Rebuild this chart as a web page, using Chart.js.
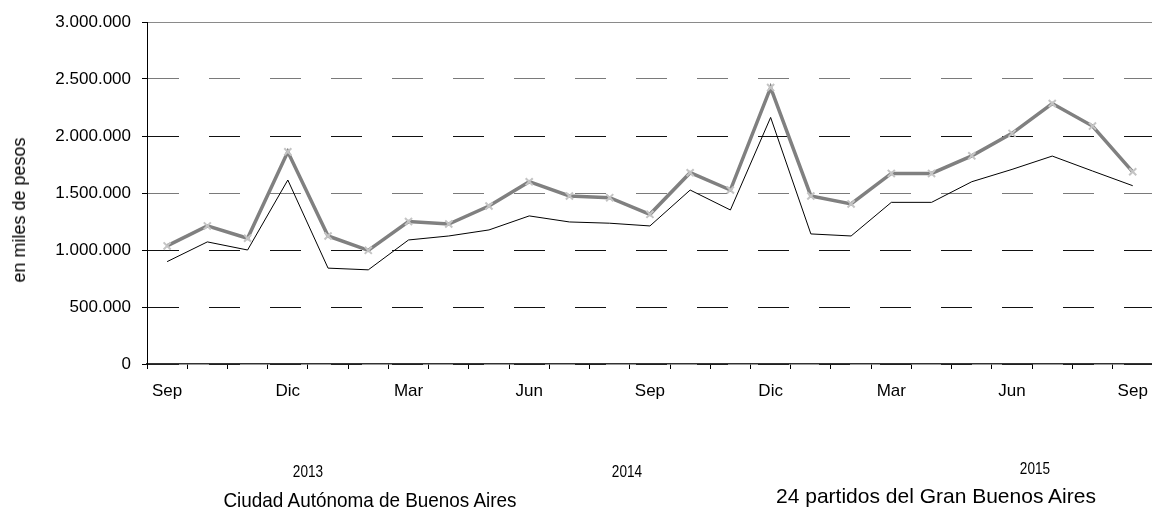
<!DOCTYPE html>
<html>
<head>
<meta charset="utf-8">
<script src="https://cdn.jsdelivr.net/npm/chart.js@4.4.0/dist/chart.umd.min.js"></script>
<style>
body{margin:0;overflow:hidden;background:#fff;font-family:"Liberation Sans",Arial,sans-serif;}
#wrap{position:relative;width:1152px;height:510px;overflow:hidden;}
#mycanvas{display:block;}
.txt{position:absolute;color:#000;white-space:nowrap;line-height:1;}
</style>
</head>
<body>
<div id="wrap">
<canvas id="mycanvas" width="1160" height="510"></canvas>
</div>
<script>
// meses sep 2013 - sep 2015
var meses=['Sep','Oct','Nov','Dic','Ene','Feb','Mar','Abr','May','Jun','Jul','Ago',
           'Sep','Oct','Nov','Dic','Ene','Feb','Mar','Abr','May','Jun','Jul','Ago','Sep'];
var anios=['2013','2014','2015'];
var series=['Ciudad Autónoma de Buenos Aires','24 partidos del Gran Buenos Aires'];
var tituloY='en miles de pesos';

// en miles de pesos
var ciudad=[898000,1071000,1000000,1614000,841000,826000,1088000,1123000,1176000,1299000,1246000,1235000,
            1211000,1526000,1351000,2163000,1141000,1123000,1418000,1418000,1599000,1707000,1824000,1693000,1564000];
var partidos=[1036000,1211000,1103000,1861000,1123000,997000,1249000,1228000,1386000,1599000,1474000,1459000,
              1313000,1678000,1526000,2425000,1474000,1404000,1672000,1672000,1826000,2023000,2285000,2087000,1686000];

function miles(v){
  return String(v).replace(/\B(?=(\d{3})+(?!\d))/g,'.');
}

var fuente='"Liberation Sans", Arial';

var ctx=document.getElementById('mycanvas');
var chart=new Chart(ctx,{
  type:'line',
  data:{
    labels:meses,
    datasets:[
      {
        label:series[1],
        data:partidos,
        borderColor:'#808080',
        borderWidth:3.5,
        pointStyle:'crossRot',
        pointRadius:5,
        pointBorderWidth:2,
        pointBorderColor:'#c4c4c4',
        pointBackgroundColor:'#c4c4c4',
        tension:0
      },
      {
        label:series[0],
        data:ciudad,
        borderColor:'#000',
        borderWidth:1,
        pointRadius:0,
        tension:0
      }
    ]
  },
  options:{
    responsive:false,
    animation:false,
    devicePixelRatio:1,
    layout:{padding:{top:22,left:0,right:0,bottom:0}},
    plugins:{legend:{display:false},tooltip:{enabled:false}},
    scales:{
      x:{
        offset:true,
        grid:{offset:true,drawOnChartArea:false,tickLength:5,color:'#000',tickColor:'#000'},
        border:{color:'#333',width:1.5},
        ticks:{
          autoSkip:false,maxRotation:0,padding:12,color:'#000',
          font:{family:fuente,size:17},
          callback:function(v,i){ return i%3===0 ? meses[i] : ''; }
        },
        afterFit:function(s){ s.height=146; }
      },
      x2:{
        position:'top',
        grid:{display:false},
        ticks:{display:false},
        border:{display:true,color:'#8a8a8a',width:1},
        afterFit:function(s){ s.height=0; }
      },
      y:{
        min:0,max:3000000,
        grid:{
          color:function(c){ return (c.index===3||c.index===5) ? '#7a7a7a' : '#111'; },
          tickLength:5,tickColor:'#000',tickBorderDash:[]
        },
        border:{color:'#000',width:1,dash:[31,30]},
        ticks:{
          stepSize:500000,padding:11,color:'#000',
          font:{family:fuente,size:17},
          callback:function(v){ return miles(v); }
        },
        afterFit:function(s){ s.width=147; }
      }
    }
  }
});

// textos fuera del grafico: titulo del eje, años y nombres de series
var wrap=document.getElementById('wrap');
function texto(t,x,y,size,sx,rot){
  var d=document.createElement('div');
  d.className='txt';
  d.style.left=x+'px';
  d.style.top=y+'px';
  d.style.fontSize=size+'px';
  if(rot){
    d.style.transform='translate(-50%,-50%) rotate(-90deg)';
  }else{
    d.style.transform='translateX(-50%) scaleX('+sx+')';
  }
  d.textContent=t;
  wrap.appendChild(d);
}
texto(tituloY,19,210,18,1,true);
texto(anios[0],308,463,17,0.8);
texto(anios[1],627,463,17,0.8);
texto(anios[2],1035,460,17,0.8);
texto(series[0],370,489,21,0.9);
texto(series[1],936,485,21,1);
</script>
</body>
</html>
